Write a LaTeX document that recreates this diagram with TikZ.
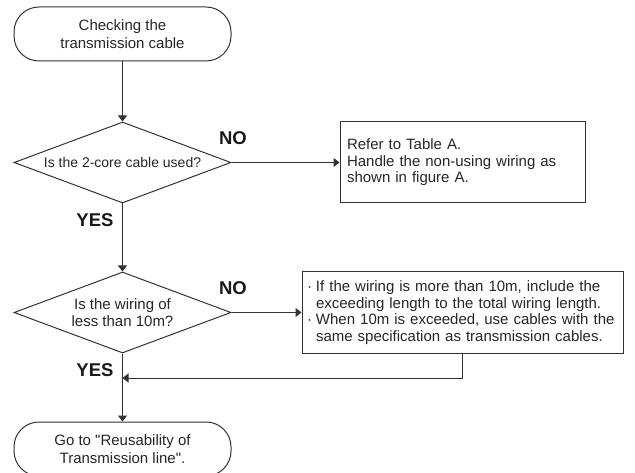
\documentclass[tikz,border=0pt]{standalone}
\usepackage{fontspec}
\setmainfont{Liberation Sans}
\usetikzlibrary{arrows.meta,shapes.geometric,positioning}

\tikzset{
  line/.style={line width=1pt,draw=black!80},
  arr/.style={line,-{Triangle[length=6pt,width=9pt]}},
  term/.style={line,rounded corners=25pt,minimum width=217pt,minimum height=54pt,
    align=center,font=\fontsize{15}{18}\selectfont,text=black!85},
  decision/.style={line,diamond,shape aspect=2.68,inner sep=1pt,minimum width=217pt,
    minimum height=81pt,align=center,font=\fontsize{15}{16.5}\selectfont,text=black!85},
  notebox/.style={line,rectangle,minimum height=81pt,align=left,
    font=\fontsize{15}{16.5}\selectfont,text=black!85},
  answer/.style={font=\fontsize{18.5}{20}\selectfont\bfseries,text=black!90}
}
\newcommand{\dotitem}{\makebox[9pt][l]{\textperiodcentered}}

\begin{document}
\begin{tikzpicture}[x=1pt,y=-1pt,>=Stealth]
\useasboundingbox (0,0) rectangle (635,473);
\clip (0,0) rectangle (635,473);
% flow column
\node[term] (start) at (122.5,34) {Checking the\\transmission cable};
\node[decision,font=\fontsize{14}{16.5}\selectfont] (cable) at (122.5,162.5) {Is the 2-core cable used?};
\node[decision] (length) at (122.5,312.5) {Is the wiring of\\less than 10m?};
\node[term] (finish) at (122.5,449) {Go to \textquotedbl Reusability of\\Transmission line\textquotedbl.};
% notes on the right
\node[notebox,text width=231pt,inner xsep=7pt] (tableA) at (462.5,162.5)
  {Refer to Table A.\\Handle the non-using wiring as\\shown in figure A.};
\node[notebox,text width=311pt,inner xsep=5pt] (exceed) at (462.5,312.5)
  {\dotitem If the wiring is more than 10m, include the\\
   \hspace*{9pt}exceeding length to the total wiring length.\\
   \dotitem When 10m is exceeded, use cables with the\\
   \hspace*{9pt}same specification as transmission cables.};
% answers
\node[answer] (no1) at (233,138) {NO};
\node[answer] (yes1) at (95,220) {YES};
\node[answer] (no2) at (233,288) {NO};
\node[answer] (yes2) at (95,370) {YES};
% connectors
\coordinate (join) at (122.5,378);
\draw[arr] (start) -- (cable);
\draw[arr] (cable) -- (tableA);
\draw[arr] (cable) -- (length);
\draw[arr] (length) -- (exceed);
\draw[arr] (exceed.south) |- (join);
\draw[arr] (length) -- (finish);
\end{tikzpicture}
\end{document}
